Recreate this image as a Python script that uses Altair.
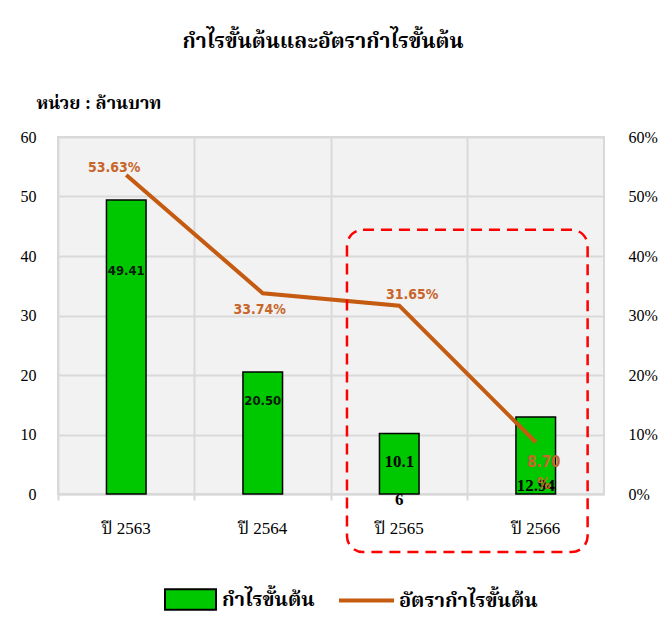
import altair as alt
import pandas as pd

# ---- data ----
years = ["ปี 2563", "ปี 2564", "ปี 2565", "ปี 2566"]
gross_profit = [49.41, 20.50, 10.16, 12.94]      # ล้านบาท
gross_margin = [53.63, 33.74, 31.65, 8.70]       # %
bar_series = "กำไรขั้นต้น"
line_series = "อัตรากำไรขั้นต้น"
title_text = "กำไรขั้นต้นและอัตรากำไรขั้นต้น"
unit_text = "หน่วย : ล้านบาท"

# highlighted period (annotation box)
highlight = pd.DataFrame({"start": ["ปี 2565"], "end": ["ปี 2566"], "top": [44.4], "bottom": [-9.75]})

df = pd.DataFrame({
    "year": years,
    "profit": gross_profit,
    "margin": gross_margin,
    "s1": [bar_series] * 4,
    "s2": [line_series] * 4,
})

THAI_SERIF = "Liberation Serif, Noto Serif Thai, Noto Sans Thai, Garuda, Loma, serif"
GREEN = "#00c800"
ORANGE = "#c55a11"
LABEL_ORANGE = "#c8652a"
GRID = "#d9d9d9"

x_scale = alt.Scale(domain=years, paddingInner=0, paddingOuter=0)
x_axis = alt.Axis(
    title=None, labelAngle=0, bandPosition=0, grid=True, gridColor=GRID, gridWidth=2,
    domainColor=GRID, domainWidth=2, tickColor=GRID, tickWidth=2, tickSize=6,
    labelFont=THAI_SERIF, labelFontSize=17, labelColor="#000000", labelPadding=20,
)


def X():
    return alt.X("year:N", sort=years, scale=x_scale, axis=x_axis)


y_left_scale = alt.Scale(domain=[0, 60], nice=False)
y_right_scale = alt.Scale(domain=[0, 60], nice=False)

base = alt.Chart(df)

# ---- bars (left axis) ----
bars = base.mark_bar(width=alt.RelativeBandSize(0.29), stroke="#000000", strokeWidth=1.5).encode(
    x=X(),
    y=alt.Y("profit:Q", scale=y_left_scale,
            axis=alt.Axis(title=unit_text, values=[0, 10, 20, 30, 40, 50, 60], grid=True,
                          gridColor=GRID, gridWidth=2, domain=False, ticks=False, tickSize=0,
                          labelFont="Liberation Serif", labelFontSize=16, labelColor="#000000",
                          labelPadding=22, titleAngle=0, titleAlign="left", titleBaseline="middle",
                          titleX=-22, titleY=-34, titleFont=THAI_SERIF, titleFontSize=18,
                          titleFontWeight="bold", titleColor="#000000")),
    fill=alt.Fill("s1:N", scale=alt.Scale(domain=[bar_series], range=[GREEN]),
                  legend=alt.Legend(title=None, orient="none", legendX=106, legendY=436,
                                    symbolType="M-1,-0.4H1V0.4H-1Z", symbolSize=2600,
                                    symbolStrokeColor="#000000", symbolStrokeWidth=2,
                                    symbolFillColor=GREEN, labelFont=THAI_SERIF, labelFontSize=20,
                                    labelFontWeight="bold", labelColor="#000000", labelOffset=5,
                                    padding=0)),
)

lab_upper = base.transform_filter(
    alt.FieldOneOfPredicate(field="year", oneOf=years[:2])
).transform_calculate(
    pos="datum.profit * 0.76", txt="format(datum.profit, '.2f')"
).mark_text(font="DejaVu Sans Condensed", fontWeight="bold", fontSize=13, color="#0a1a0a").encode(
    x=X(), y=alt.Y("pos:Q", scale=y_left_scale), text="txt:N"
)

lab_mid = base.transform_filter(
    alt.FieldEqualPredicate(field="year", equal=years[2])
).transform_calculate(
    pos="datum.profit * 0.53",
    txt="substring(format(datum.profit, '.2f'), 0, 4) + '\\n' + substring(format(datum.profit, '.2f'), 4)",
).mark_text(font="Liberation Serif", fontWeight="bold", fontSize=17, color="#000000",
            lineBreak="\n", lineHeight=38, baseline="middle", dy=0).encode(
    x=X(), y=alt.Y("pos:Q", scale=y_left_scale), text="txt:N"
)

lab_base = base.transform_filter(
    alt.FieldEqualPredicate(field="year", equal=years[3])
).transform_calculate(
    pos="0", txt="format(datum.profit, '.2f')"
).mark_text(font="Liberation Serif", fontWeight="bold", fontSize=17, color="#000000",
            baseline="bottom", dy=1).encode(
    x=X(), y=alt.Y("pos:Q", scale=y_left_scale), text="txt:N"
)

left = alt.layer(bars, lab_upper, lab_mid, lab_base)

# ---- line (right axis) ----
line = base.mark_line(strokeWidth=4, strokeCap="butt").encode(
    x=X(),
    y=alt.Y("margin:Q", scale=y_right_scale,
            axis=alt.Axis(orient="right", title=None, values=[0, 10, 20, 30, 40, 50, 60],
                          labelExpr="datum.value + '%'", grid=False, domain=False, ticks=False,
                          tickSize=0, labelFont="Liberation Serif", labelFontSize=16,
                          labelColor="#000000", labelPadding=24)),
    stroke=alt.Stroke("s2:N", scale=alt.Scale(domain=[line_series], range=[ORANGE]),
                      legend=alt.Legend(title=None, orient="none", legendX=279, legendY=434,
                                        symbolType="stroke", symbolSize=3025, symbolStrokeWidth=4,
                                        labelFont=THAI_SERIF, labelFontSize=20,
                                        labelFontWeight="bold", labelColor="#000000",
                                        labelOffset=3, padding=0)),
)


def pct_label(year, dx, dy, **kw):
    return base.transform_filter(
        alt.FieldEqualPredicate(field="year", equal=year)
    ).transform_calculate(
        txt="format(datum.margin, '.2f') + '%'"
    ).mark_text(font="DejaVu Sans Condensed", fontWeight="bold", fontSize=14, color=LABEL_ORANGE,
                dx=dx, dy=dy, **kw).encode(
        x=X(), y=alt.Y("margin:Q", scale=y_right_scale), text="txt:N"
    )


p1 = pct_label(years[0], -12, -7)
p2 = pct_label(years[1], -3, 17)
p3 = pct_label(years[2], 13, -11)
p4 = base.transform_filter(
    alt.FieldEqualPredicate(field="year", equal=years[3])
).transform_calculate(
    txt="format(datum.margin, '.2f') + '\\n%'"
).mark_text(font="DejaVu Sans Condensed", fontWeight="bold", fontSize=15, color=LABEL_ORANGE,
            dx=8, dy=20, lineBreak="\n", lineHeight=22, baseline="middle").encode(
    x=X(), y=alt.Y("margin:Q", scale=y_right_scale), text="txt:N"
)

right = alt.layer(line, p1, p2, p3, p4)

# ---- highlight box ----
box = alt.Chart(highlight).mark_rect(
    fill=None, fillOpacity=0, stroke="#ff0000", strokeWidth=2.5, strokeDash=[11, 7], cornerRadius=16
).encode(
    x=alt.X("start:N", sort=years, scale=x_scale, axis=x_axis, bandPosition=0.117),
    x2=alt.X2("end:N", bandPosition=0.88),
    y=alt.Y("top:Q", scale=alt.Scale(domain=[0, 60], nice=False), axis=None),
    y2="bottom:Q",
)

chart = alt.layer(left, right, box).resolve_scale(y="independent").properties(
    width=546,
    height=357,
    autosize=alt.AutoSizeParams(type="none"),
    padding={"left": 50, "top": 129, "right": 60, "bottom": 125},
    title=alt.TitleParams(title_text, font=THAI_SERIF, fontSize=21, fontWeight="bold",
                          color="#000000", anchor="middle", offset=42, dx=-8),
).configure_view(
    stroke=GRID, strokeWidth=2, fill="#f2f2f2"
)

chart.save("out.html", embed_options={"renderer": "svg", "actions": False})
